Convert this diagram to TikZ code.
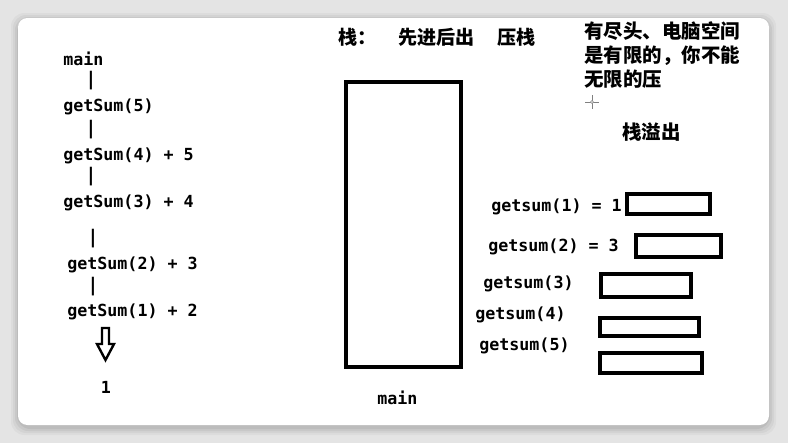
\documentclass[tikz,border=0pt]{standalone}
\usepackage{fontspec}
\setmonofont{DejaVu Sans Mono}
\newfontfamily\cjk{Noto Sans CJK SC}
\usetikzlibrary{positioning}
\definecolor{pagegray}{RGB}{228,228,228}

\begin{document}
\begin{tikzpicture}[x=0.75pt,y=-0.75pt,
  code/.style={font=\ttfamily\bfseries\fontsize{12.5}{15}\selectfont,inner sep=0pt,anchor=west},
  bar/.style={font=\ttfamily\bfseries\fontsize{14}{15}\selectfont,inner sep=0pt},
  hanzi/.style={font=\cjk\bfseries\fontsize{14.3}{18}\selectfont,inner sep=0pt,anchor=west,align=left},
  box/.style={draw,line width=2.6pt}]
  \useasboundingbox (0,0) rectangle (788,443);
  % page and card
  \fill[pagegray] (0,0) rectangle (788,443);
  \foreach \d/\o in {7/0.03,5/0.04,3/0.05,1/0.06}
    \fill[black,opacity=\o,rounded corners=10pt] (18-\d,20-\d) rectangle (769+\d,428+\d);
  \fill[white,rounded corners=7pt] (18,18) rectangle (769,425);

  % call chain
  \node[code] (main) at (63,59) {main};
  \node[bar] (b1) at (91,81) {|};
  \node[code] (s5) at (63,107) {getSum(5)};
  \node[bar] (b2) at (91,130) {|};
  \node[code] (s4) at (63,156) {getSum(4) + 5};
  \node[bar] (b3) at (91,177) {|};
  \node[code] (s3) at (63,203) {getSum(3) + 4};
  \node[bar] (b4) at (93,239) {|};
  \node[code] (s2) at (67,265) {getSum(2) + 3};
  \node[bar] (b5) at (93,287) {|};
  \node[code] (s1) at (67,312) {getSum(1) + 2};
  \draw[line width=1.8pt,line join=miter] (102,328) -- (109,328) -- (109,344) -- (114,344)
    -- (105.5,360) -- (97,344) -- (102,344) -- cycle;
  \node[code,anchor=center] (one) at (106,387) {1};

  % stack
  \node[hanzi] (t1) at (338,37) {栈：};
  \node[hanzi] (t2) at (398,37) {先进后出};
  \node[hanzi] (t3) at (497,37) {压栈};
  \draw[box] (346,82) rectangle (461,367);
  \node[code] (bottom) at (377,398) {main};

  % overflow
  \node[hanzi,font=\cjk\bfseries\fontsize{14.6}{18.2}\selectfont] (note) at (584,55)
    {有尽头、电脑空间\\是有限的，你不能\\无限的压};
  \draw[gray,line width=0.4pt] (585,102) -- (599,102) (592,95) -- (592,109);
  \draw[gray,fill=white,line width=0.4pt] (592,102) circle (1.6);
  \node[hanzi,font=\cjk\bfseries\fontsize{14.6}{18}\selectfont] (over) at (622,132) {栈溢出};

  \node[code] (g1) at (491,207) {getsum(1) = 1};
  \node[code] (g2) at (488,247) {getsum(2) = 3};
  \node[code] (g3) at (483,284) {getsum(3)};
  \node[code] (g4) at (475,315) {getsum(4)};
  \node[code] (g5) at (479,346) {getsum(5)};
  \draw[box] (627,194) rectangle (710,214);
  \draw[box] (636,235) rectangle (721,257);
  \draw[box] (601,274) rectangle (691,297);
  \draw[box] (600,318) rectangle (699,336);
  \draw[box] (600,353) rectangle (702,373);
\end{tikzpicture}
\end{document}
